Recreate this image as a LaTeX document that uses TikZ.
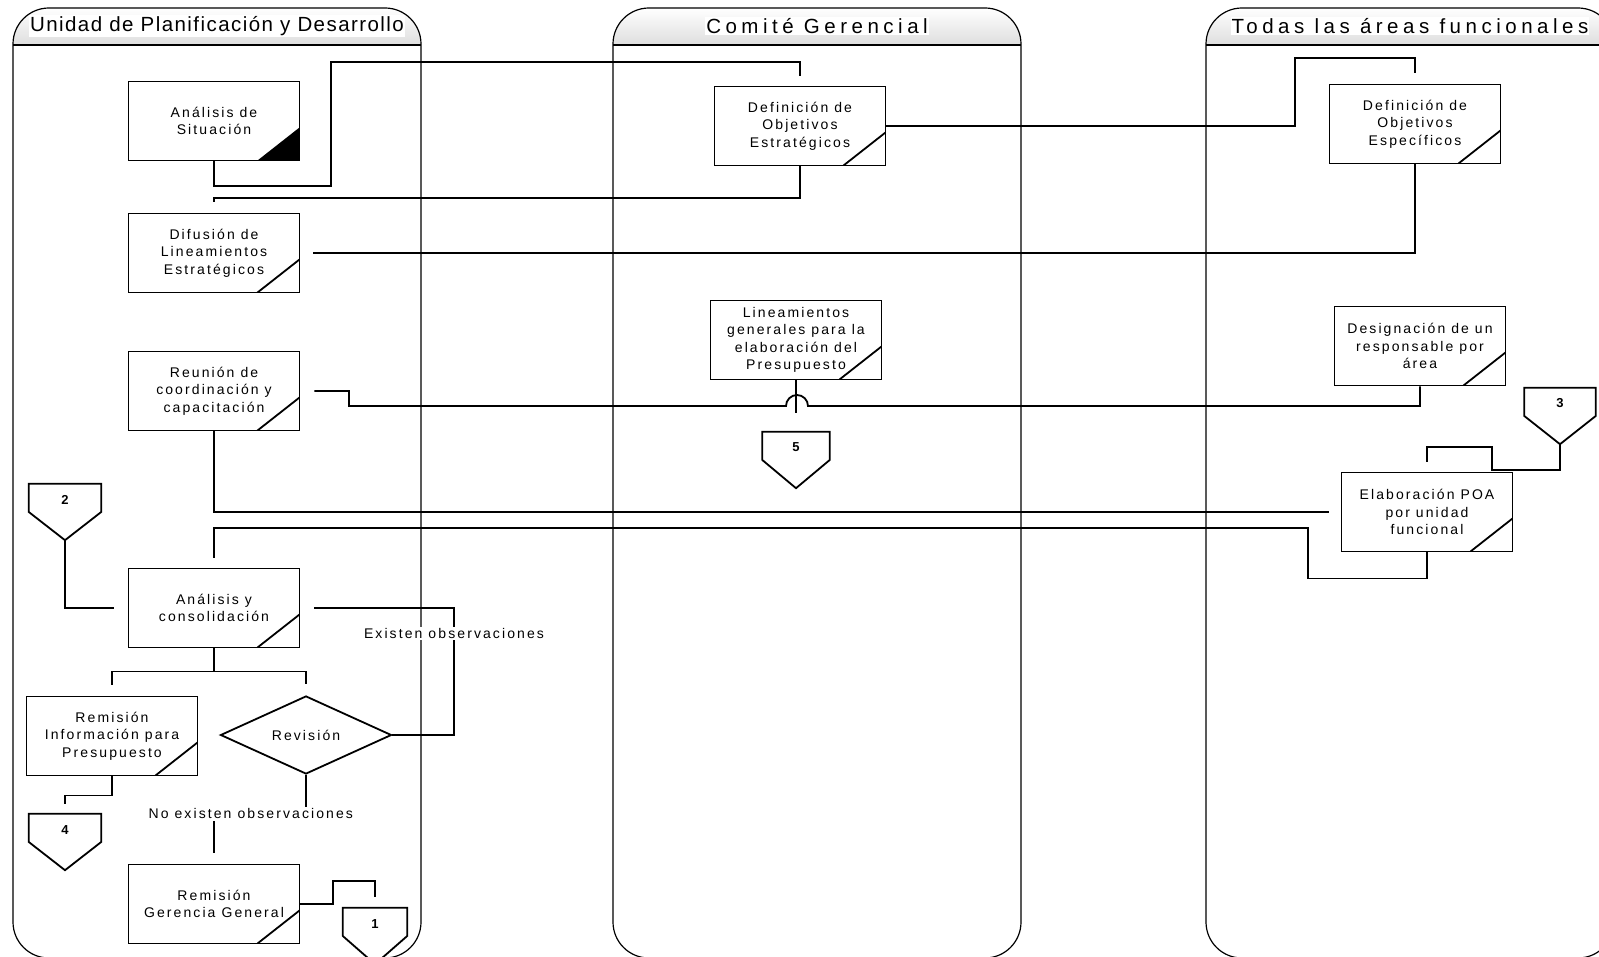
\documentclass[tikz,border=0pt]{standalone}
\usepackage{fontspec}
\setmainfont{Liberation Sans}
\newfontfamily\boxfont[LetterSpace=15]{Liberation Sans}
\newfontfamily\lanefont[LetterSpace=22]{Liberation Sans}
\newfontfamily\lanefontnarrow[LetterSpace=7]{Liberation Sans}
\usetikzlibrary{positioning,shapes.geometric}

\begin{document}
\begin{tikzpicture}[x=1pt, y=-1pt,
  task/.style={draw, line width=1.8pt, minimum width=171pt, minimum height=79pt, inner sep=0pt, align=center,
    font=\boxfont\fontsize{14}{17.5}\selectfont,
    path picture={\draw[line width=1.8pt] ([xshift=-42pt]path picture bounding box.south east) -- ([yshift=33pt]path picture bounding box.south east);}},
  taskdone/.style={task, path picture={\fill ([xshift=-42pt]path picture bounding box.south east) -- ([yshift=33pt]path picture bounding box.south east) -- (path picture bounding box.south east) -- cycle;}},
  decision/.style={diamond, aspect=2.2, draw, line width=1.8pt, minimum width=171pt, minimum height=78pt, inner sep=0pt,
    font=\boxfont\fontsize{14}{17.5}\selectfont},
  offpage/.style={inner sep=0pt, minimum width=#1, minimum height=56pt, text height=10pt, text depth=26pt,
    font=\boxfont\bfseries\fontsize{13}{15}\selectfont},
  offpage/.default=72pt,
  flow/.style={line width=1.8pt, shorten >=#1}, flow/.default=11pt,
  lbl/.style={fill=white, inner sep=1.5pt, font=\boxfont\fontsize{14}{17.5}\selectfont},
  lane/.style={line width=1.2pt}]
  \useasboundingbox (0,0) rectangle (1599,957);
  \clip (0,0) rectangle (1599,957);

  % swimlanes
  \foreach \lx/\ttl/\lf in {13/{Unidad de Planificación y Desarrollo}/\lanefontnarrow,
                            613/{Comité Gerencial}/\lanefont,
                            1206/{Todas las áreas funcionales}/\lanefont} {
    \begin{scope}
      \clip[rounded corners=36pt] (\lx,958) -- (\lx,8) -- (\lx+408,8) -- (\lx+408,958) -- cycle;
      \shade[top color=white, bottom color=black!13] (\lx,8) rectangle (\lx+408,45);
    \end{scope}
    \draw[lane, rounded corners=36pt] (\lx,958) -- (\lx,8) -- (\lx+408,8) -- (\lx+408,958) -- cycle;
    \draw[lane] (\lx,45) -- (\lx+408,45);
    \node[fill=white, inner sep=1pt, font=\lf\fontsize{20.5}{24}\selectfont] (title-\lx) at (\lx+204,26) {\ttl};
  }

  % activities
  \node[taskdone] (sit) at (214,121) {Análisis de\\Situación};
  \node[task] (difu) at (214,253) {Difusión de\\Lineamientos\\Estratégicos};
  \node[task] (reun) at (214,391) {Reunión de\\coordinación y\\capacitación};
  \node[task] (anacon) at (214,608) {Análisis y\\consolidación};
  \node[task] (reminf) at (112,736) {Remisión\\Información para\\Presupuesto};
  \node[decision] (rev) at (306,735) {Revisión};
  \node[task] (remger) at (214,904) {Remisión\\Gerencia General};
  \node[task] (defest) at (800,126) {Definición de\\Objetivos\\Estratégicos};
  \node[task] (lineam) at (796,340) {Lineamientos\\generales para la\\elaboración del\\Presupuesto};
  \node[task] (defesp) at (1415,124) {Definición de\\Objetivos\\Específicos};
  \node[task] (desig) at (1420,346) {Designación de un\\responsable por\\área};
  \node[task] (elab) at (1427,512) {Elaboración POA\\por unidad\\funcional};

  % off-page connectors
  \node[offpage] (c2) at (65,512) {2};
  \node[offpage] (c4) at (65,842) {4};
  \node[offpage=64pt] (c1) at (375,936) {1};
  \node[offpage=67pt] (c5) at (796,460) {5};
  \node[offpage=71pt] (c3) at (1560,416) {3};
  \foreach \c in {c1,c2,c3,c4,c5}
    \draw[line width=1.8pt] (\c.north west) -- (\c.north east) -- (\c.east) -- (\c.south) -- (\c.west) -- cycle;

  % flows
  \draw[flow=10pt] (sit.south) -- ++(0,25) -| (331,62) -| (defest.north);
  \draw[flow] (defest.south) -- ++(0,32) -| (difu.north);
  \draw[flow] (defest.east) -| (1295,58) -| (defesp.north);
  \draw[flow=13pt] (defesp.south) |- (difu.east);
  \draw[flow=14pt] (desig.south) |- (808,406) arc[start angle=0, end angle=180, radius=11pt] -- (349,406) |- (reun.east);
  \draw[flow=19pt] (lineam.south) -- (c5.north);
  \draw[flow=12pt] (reun.south) |- (elab.west);
  \draw[flow=10pt] (elab.south) -- ++(0,26) -| (1308,528) -| (anacon.north);
  \draw[flow=10pt] (c3.south) |- (1492,470) |- (1427,447) -- (elab.north);
  \draw[flow=14pt] (c2.south) |- (anacon.west);
  \draw[flow=14pt] (rev.east) -| node[pos=0.9, lbl] (obs) {Existen observaciones} (454,608) -- (anacon.east);
  \foreach \t in {reminf,rev}
    \draw[flow] (anacon.south) -- ++(0,23) -| (\t.north);
  \draw[flow=10pt] (reminf.south) -- ++(0,19) -| (c4.north);
  \draw[flow] (rev.south) -- ++(0,39) -| node[pos=0.3, lbl] (noobs) {No existen observaciones} (remger.north);
  \draw[flow] (remger.east) -| (333,881) -| (c1.north);
\end{tikzpicture}
\end{document}
